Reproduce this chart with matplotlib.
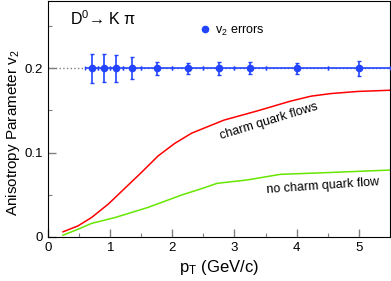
import matplotlib.pyplot as plt
from matplotlib.lines import Line2D
import numpy as np

plt.rcParams['font.family'] = ['Liberation Sans', 'DejaVu Sans']
plt.rcParams['mathtext.fontset'] = 'custom'
plt.rcParams['mathtext.rm'] = 'Liberation Sans'
plt.rcParams['mathtext.it'] = 'Liberation Sans:italic'

# measured v2 points (bin centres, bin edges, errors)
pt_points = [0.7, 0.9, 1.1, 1.35, 1.75, 2.25, 2.75, 3.25, 4.0, 5.0]
pt_edges = [0.6, 0.8, 1.0, 1.2, 1.5, 2.0, 2.5, 3.0, 3.5, 4.5, 5.5]
v2_points = [0.2] * 10
v2_errors = [0.0174, 0.0168, 0.016, 0.0128, 0.0079, 0.0067, 0.0075, 0.007, 0.0067, 0.009]

# model curves
pt_charm = [0.24, 0.48, 0.70, 0.97, 1.24, 1.51, 1.77, 2.04, 2.31, 2.56, 2.83, 3.37, 3.90, 4.23, 4.55, 4.98, 5.52]
v2_charm = [0.006, 0.013, 0.023, 0.039, 0.058, 0.077, 0.096, 0.111, 0.123, 0.1305, 0.1385, 0.1495, 0.161, 0.1669, 0.170, 0.1725, 0.174]
pt_nocharm = [0.24, 0.48, 0.70, 1.08, 1.61, 2.15, 2.42, 2.72, 3.2, 3.74, 4.44, 5.52]
v2_nocharm = [0.002, 0.009, 0.016, 0.023, 0.035, 0.0497, 0.056, 0.0635, 0.0675, 0.0742, 0.0761, 0.0793]

blue = '#2244ff'
fig = plt.figure(figsize=(3.91, 2.81), dpi=100)
ax = fig.add_axes([0.123, 0.157, 0.874, 0.84])

ax.axhline(0.2, color='gray', linestyle=':', linewidth=1.0, zorder=1)
xerr_lo = np.array(pt_points) - np.array(pt_edges[:-1])
xerr_hi = np.array(pt_edges[1:]) - np.array(pt_points)
ax.errorbar(pt_points, v2_points, yerr=v2_errors, xerr=[xerr_lo, xerr_hi],
            fmt='o', color=blue, markersize=4.5, capsize=1.5, elinewidth=1.2,
            capthick=1.0, zorder=3)

ax.plot(pt_charm, v2_charm, color='red', linewidth=1.1)
ax.plot(pt_nocharm, v2_nocharm, color='#66e600', linewidth=1.1)

ax.text(3.56, 0.137, 'charm quark flows', rotation=17, ha='center', va='center', fontsize=9)
ax.text(4.43, 0.060, 'no charm quark flow', rotation=4, ha='center', va='center', fontsize=9)
ax.text(0.35, 0.259, 'D$^0$→ K π', ha='left', va='center', fontsize=11.5)

dot = Line2D([], [], marker='o', linestyle='none', color=blue, markersize=4.5)
ax.legend([dot], ['v$_2$ errors'], loc='center left', bbox_to_anchor=(0.43, 0.873),
          frameon=False, fontsize=9, handlelength=0.6, handletextpad=0.5, borderpad=0)

ax.set_xlim(0, 5.5)
ax.set_ylim(0, 0.28)
ax.set_xticks([0, 1, 2, 3, 4, 5])
ax.set_xticks(np.arange(0.5, 5.5, 1.0), minor=True)
ax.set_yticks([0, 0.1, 0.2])
ax.set_yticklabels(['0', '0.1', '0.2'])
ax.set_yticks([0.05, 0.15, 0.25], minor=True)
ax.tick_params(direction='in', which='both', colors='gray', labelcolor='black', labelsize=9.5)
ax.tick_params(which='major', length=6, width=1.0)
ax.tick_params(which='minor', length=3, width=0.8)

ax.set_xlabel('p$_\\mathrm{T}$ (GeV/c)', fontsize=12)
ax.set_ylabel('Anisotropy Parameter v$_2$', fontsize=11)
ax.yaxis.set_label_coords(-0.075, 0.44)
ax.xaxis.set_label_coords(0.5, -0.09)

fig.savefig('out.png', dpi=100)
